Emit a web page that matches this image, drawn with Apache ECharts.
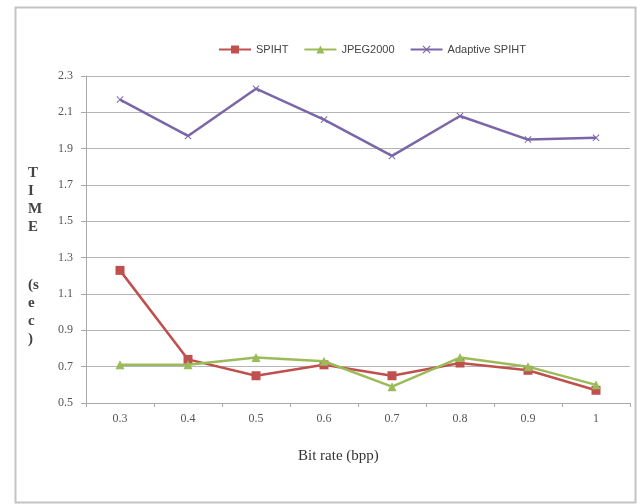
<!DOCTYPE html>
<html>
<head>
<meta charset="utf-8">
<script src="https://cdn.jsdelivr.net/npm/echarts@6/dist/echarts.min.js"></script>
<style>html,body{margin:0;padding:0;background:#fff;}#c{width:637px;height:504px;}</style>
</head>
<body>
<div id="c"></div>
<script>
const categories = ['0.3','0.4','0.5','0.6','0.7','0.8','0.9','1'];
const spiht = [1.23, 0.74, 0.65, 0.71, 0.65, 0.72, 0.68, 0.57];
const jpeg2000 = [0.71, 0.71, 0.75, 0.73, 0.59, 0.75, 0.70, 0.60];
const adaptiveSpiht = [2.17, 1.97, 2.23, 2.06, 1.86, 2.08, 1.95, 1.96];
const yMin = 0.5, yMax = 2.3, yStep = 0.2;

const chart = echarts.init(document.getElementById('c'), null, {renderer:'canvas'});
const serif = '"Liberation Serif","DejaVu Serif",serif';
const xPath = 'path://M0,1L1,0L5,4L9,0L10,1L6,5L10,9L9,10L5,6L1,10L0,9L4,5Z';
chart.setOption({
  animation: false,
  backgroundColor: '#fff',
  legend: {
    top: 39, left: 213,
    itemWidth: 32, itemHeight: 10, itemGap: 15,
    textStyle: {fontFamily: '"Liberation Sans Narrow","Liberation Sans",sans-serif', fontSize: 11, color: '#444'},
    data: ['SPIHT','JPEG2000','Adaptive SPIHT']
  },
  grid: {left: 86, right: 7, top: 76, bottom: 101, containLabel: false},
  xAxis: {
    type: 'category', data: categories, boundaryGap: true,
    axisLine: {lineStyle: {color: '#aaa', width: 1}},
    axisTick: {show: true, length: 4, lineStyle: {color: '#aaa'}},
    axisLabel: {fontFamily: serif, fontSize: 12, color: '#555', margin: 10},
    splitLine: {show: false}
  },
  yAxis: {
    type: 'value', min: yMin, max: yMax, interval: yStep,
    axisLine: {show: true, lineStyle: {color: '#aaa', width: 1}},
    axisTick: {show: true, length: 5, lineStyle: {color: '#aaa'}},
    axisLabel: {fontFamily: serif, fontSize: 12, color: '#555', margin: 13,
      formatter: v => (Math.round(v*10)/10).toFixed(1)},
    splitLine: {show: true, lineStyle: {color: '#b5b5b5', width: 1}}
  },
  series: [
    {name: 'SPIHT', type: 'line', data: spiht, symbol: 'rect', symbolSize: 9,
      lineStyle: {color: '#c0504d', width: 2.5}, itemStyle: {color: '#c0504d'}, z: 3},
    {name: 'JPEG2000', type: 'line', data: jpeg2000, symbol: 'triangle', symbolSize: 9,
      lineStyle: {color: '#9bbb59', width: 2.5}, itemStyle: {color: '#9bbb59'}, z: 4},
    {name: 'Adaptive SPIHT', type: 'line', data: adaptiveSpiht, symbol: xPath, symbolSize: 7,
      lineStyle: {color: '#7a66a8', width: 2.5}, itemStyle: {color: '#7a66a8'}, z: 2}
  ],
  graphic: [
    {type: 'rect', left: 13, top: 5, shape: {x: 0, y: 0, width: 620, height: 495},
      style: {fill: 'none', stroke: '#c4c4c4', lineWidth: 2}, silent: true, z: -1},
    {type: 'text', left: 28, top: 164,
      style: {text: 'T\nI\nM\nE', fontFamily: serif, fontSize: 15, fontWeight: 'bold', lineHeight: 18, fill: '#444', align: 'center'}},
    {type: 'text', left: 28, top: 276,
      style: {text: '(s\ne\nc\n)', fontFamily: serif, fontSize: 15, fontWeight: 'bold', lineHeight: 18, fill: '#444', align: 'center'}},
    {type: 'text', left: 298, top: 449,
      style: {text: 'Bit rate (bpp)', fontFamily: serif, fontSize: 15, fill: '#333'}}
  ]
});
</script>
</body>
</html>
